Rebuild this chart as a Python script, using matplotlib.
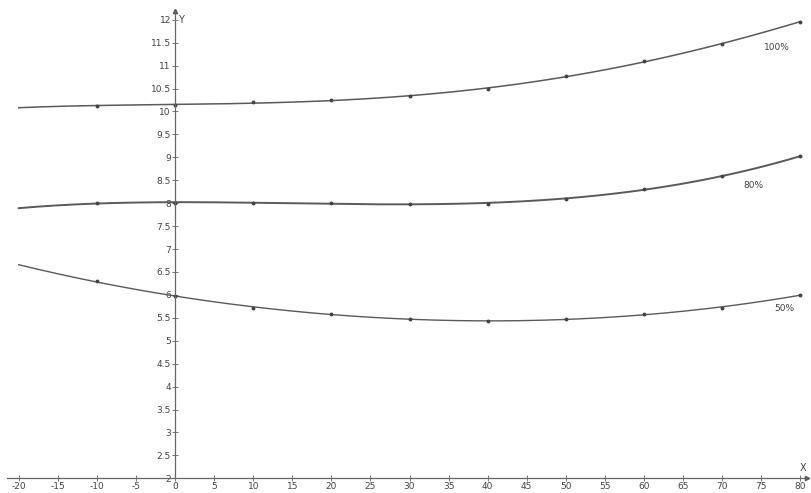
import numpy as np
import matplotlib.pyplot as plt

# samples every 10 along x
x_vals = [-20, -10, 0, 10, 20, 30, 40, 50, 60, 70, 80]
y_100 = [10.09, 10.11, 10.15, 10.2, 10.25, 10.33, 10.48, 10.78, 11.09, 11.47, 11.96]
y_80 = [7.89, 8.0, 8.01, 8.0, 8.0, 7.99, 7.99, 8.09, 8.3, 8.6, 9.02]
y_50 = [6.65, 6.3, 5.97, 5.72, 5.58, 5.48, 5.42, 5.47, 5.58, 5.72, 6.0]
labels = ['100%', '80%', '50%']
label_pos = [(77, 11.4), (74, 8.38), (78, 5.7)]

x_ticks = list(range(-20, 81, 5))
y_ticks = [2 + 0.5 * i for i in range(21)]

fig = plt.figure(figsize=(8.12, 4.93), dpi=100)
ax = fig.add_axes([0, 0, 1, 1])
ax.set_xlim(-22.4, 81.5)
ax.set_ylim(1.68, 12.43)

curve_col = '#5a5a5a'
xs = np.linspace(-20, 80, 300)
for ys, lab, pos, lw in zip([y_100, y_80, y_50], labels, label_pos, [1.1, 1.4, 1.0]):
    c = np.polyfit(x_vals, ys, 4)
    ax.plot(xs, np.polyval(c, xs), color=curve_col, lw=lw)
    ax.plot(x_vals[1:], ys[1:], 'o', ms=1.8, color='#444444')
    ax.text(pos[0], pos[1], lab, fontsize=6.5, color='#444444', ha='center', va='center')

for s in ['top', 'right']:
    ax.spines[s].set_visible(False)
ax.spines['left'].set_position(('data', 0))
ax.spines['bottom'].set_position(('data', 2))
ax.spines['left'].set_bounds(2, 12.2)
ax.spines['bottom'].set_bounds(-21.5, 80.8)
for s in ['left', 'bottom']:
    ax.spines[s].set_color('#666666')
    ax.spines[s].set_linewidth(0.9)

ax.set_xticks(x_ticks)
ax.set_yticks(y_ticks)
ax.set_xticklabels([str(t) for t in x_ticks])
ax.set_yticklabels(['%g' % t for t in y_ticks])
ax.tick_params(axis='both', direction='inout', length=4, width=0.7, color='#777777',
               labelsize=6.5, labelcolor='#444444', pad=1)

# arrows and axis names
ax.plot(80.8, 2, marker='>', ms=3, color='#555555', clip_on=False)
ax.plot(0, 12.2, marker='^', ms=3, color='#555555', clip_on=False)
ax.text(80.3, 2.12, 'X', fontsize=7, color='#444444', ha='center', va='bottom')
ax.text(0.4, 12.0, 'Y', fontsize=7, color='#444444', ha='left', va='center')

fig.savefig('out.png', dpi=100)
